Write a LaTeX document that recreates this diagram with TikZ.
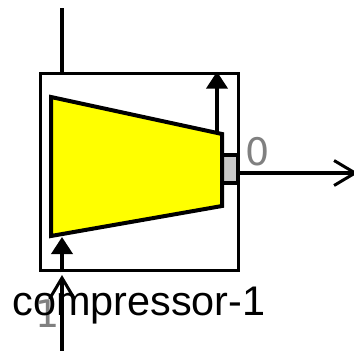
\documentclass[tikz,border=0pt]{standalone}
\usepackage{fontspec}
\setmainfont{Liberation Sans}
\newfontfamily\portfont{DejaVu Sans}
\usetikzlibrary{arrows.meta}
\definecolor{unityellow}{RGB}{255,255,0}
\definecolor{portgray}{RGB}{200,200,200}
\definecolor{labelgray}{RGB}{128,128,128}
\tikzset{
  unitbox/.style={draw, line width=3.8pt, inner sep=0pt, minimum width=198pt, minimum height=197pt},
  portbox/.style={draw, fill=portgray, line width=3.8pt, inner sep=0pt, minimum width=16pt, minimum height=28pt},
  portlabel/.style={text=labelgray, inner sep=0pt, font=\portfont\fontsize{38}{38}\selectfont},
  inflow/.style={line width=3.8pt, -{Triangle[length=17pt,width=21pt]}},
  outflow/.style={line width=3.8pt, -{Straight Barb[length=21pt,width=25pt,line width=3pt]}}
}
\begin{document}
\begin{tikzpicture}[x=1pt,y=-1pt]
  \useasboundingbox (0,0) rectangle (354,351);

  \node[unitbox] (box) at (139.5,172) {};
  \node[portbox] (port) at (230,169) {};

  \draw[line width=4pt, fill=unityellow, line join=miter]
    (51,97) coordinate (tl) -- (222,134) coordinate (tr)
    -- (222,206) coordinate (br) -- (51,236) coordinate (bl) -- cycle;

  \coordinate (topend) at (62,8);
  \coordinate (topstart) at (217,133);
  \coordinate (botend) at (62,351);
  \coordinate (botstop) at (62,275);
  \coordinate (rightend) at (358,173);

  \node[portlabel, anchor=base west] (zero) at (245,165) {0};
  \node[portlabel, anchor=base west] (one) at (35,327) {1};
  \node[anchor=base, inner sep=0pt, font=\fontsize{41.4}{42}\selectfont] (name) at (139,315) {compressor-1};

  \draw[line width=3.8pt] (box.north -| topend) -- (topend);
  \draw[inflow] (topstart) -- (box.north -| topstart);
  \draw[inflow] (box.south -| botend) -- (62,237);
  \draw[outflow] (botend) -- (botstop);
  \draw[outflow] (port.east |- rightend) -- (rightend);
\end{tikzpicture}
\end{document}
